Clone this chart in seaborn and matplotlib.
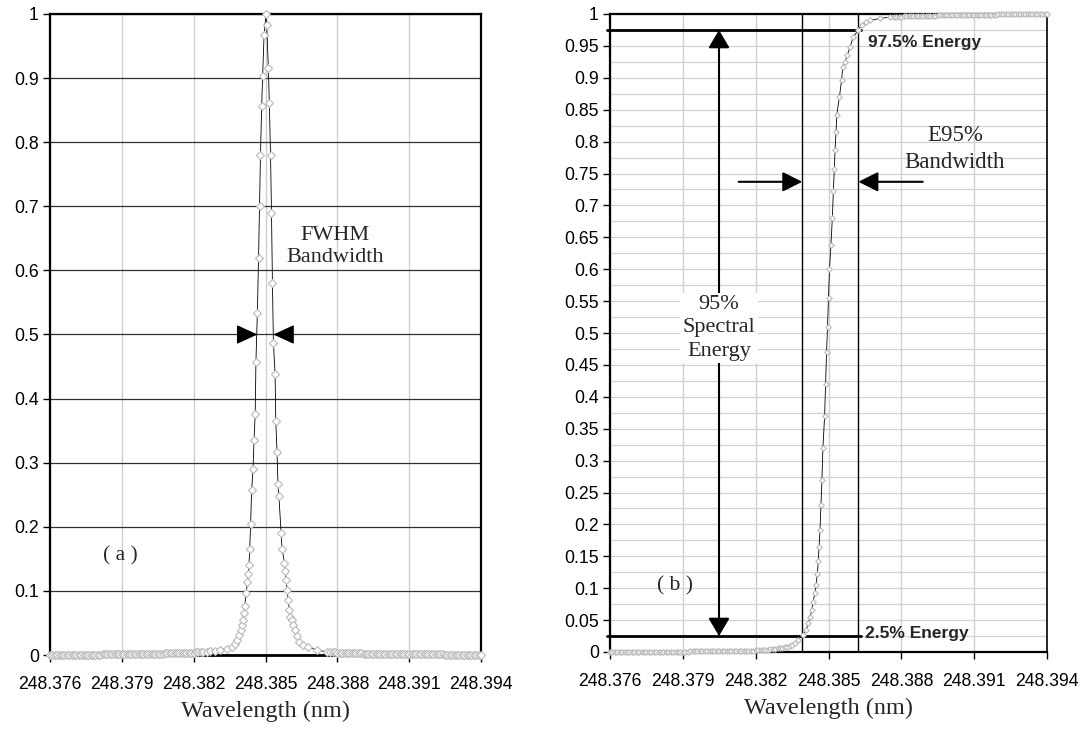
import matplotlib
matplotlib.use("Agg")
import matplotlib.pyplot as plt
import seaborn as sns
from matplotlib.ticker import FixedLocator, FuncFormatter, MultipleLocator

# ---------------- data ----------------
x_ticks = [248.376, 248.379, 248.382, 248.385, 248.388, 248.391, 248.394]
x_tick_labels = ["248.376", "248.379", "248.382", "248.385", "248.388", "248.391", "248.394"]

# (a) normalised spectrum
wl_a = [248.3760, 248.3761, 248.3762, 248.3763, 248.3764, 248.3765, 248.3766, 248.3767, 248.3768, 248.3769,
        248.3770, 248.3771, 248.3772, 248.3773, 248.3774, 248.3775, 248.3776, 248.3777, 248.3778, 248.3779,
        248.3780, 248.3781, 248.3782, 248.3783, 248.3784, 248.3785, 248.3786, 248.3787, 248.3788, 248.3789,
        248.3790, 248.3791, 248.3792, 248.3793, 248.3794, 248.3795, 248.3796, 248.3797, 248.3798, 248.3799,
        248.3800, 248.3801, 248.3802, 248.3803, 248.3804, 248.3805, 248.3806, 248.3807, 248.3808, 248.3809,
        248.3810, 248.3811, 248.3812, 248.3813, 248.3814, 248.3815, 248.3816, 248.3817, 248.3818, 248.3819,
        248.3820, 248.3821, 248.3822, 248.3823, 248.3824,
        248.38254, 248.3827, 248.3829, 248.3831, 248.38338, 248.38359, 248.38373,
        248.38382, 248.38391, 248.38396, 248.38401, 248.38405, 248.38409, 248.38413, 248.38420,
        248.38424, 248.38428, 248.38431, 248.38434, 248.38438, 248.38442, 248.38448, 248.38452,
        248.38457, 248.38460, 248.38466, 248.38471, 248.38475, 248.38479, 248.38484, 248.38488,
        248.38494, 248.38502, 248.38505, 248.38512, 248.38516, 248.38521, 248.38525, 248.38529,
        248.38533, 248.38540, 248.38543, 248.38548, 248.38552, 248.38556, 248.38565, 248.38569,
        248.38579, 248.38583, 248.38586, 248.38590, 248.38595, 248.38599, 248.38604, 248.38609,
        248.38616, 248.38623, 248.38630, 248.38641, 248.38658, 248.38679, 248.38714, 248.38756,
        248.3877, 248.3878, 248.3879,
        248.3880, 248.3881, 248.3882, 248.3883, 248.3884, 248.3885, 248.3886, 248.3887, 248.3888, 248.3889,
        248.3890, 248.3891, 248.3892, 248.3893, 248.3894, 248.3895, 248.3896, 248.3897, 248.3898, 248.3899,
        248.3900, 248.3901, 248.3902, 248.3903, 248.3904, 248.3905, 248.3906, 248.3907, 248.3908, 248.3909,
        248.3910, 248.3911, 248.3912, 248.3913, 248.3914, 248.3915, 248.3916, 248.3917, 248.3918, 248.3919,
        248.3920, 248.3921, 248.3922, 248.3923, 248.3924, 248.3925, 248.3926, 248.3927, 248.3928, 248.3929,
        248.3930, 248.3931, 248.3932, 248.3933, 248.3934, 248.3935, 248.3936, 248.3937, 248.3938, 248.3939,
        248.3940]
int_a = [0.0004, 0.0004, 0.0004, 0.0004, 0.0004, 0.0004, 0.0004, 0.0004, 0.0004, 0.0004,
         0.0005, 0.0005, 0.0005, 0.0005, 0.0006, 0.0006, 0.0006, 0.0006, 0.0006, 0.0007,
         0.0007, 0.0007, 0.0008, 0.0008, 0.0008, 0.0009, 0.0009, 0.0009, 0.0010, 0.0010,
         0.0011, 0.0011, 0.0012, 0.0012, 0.0013, 0.0013, 0.0014, 0.0014, 0.0015, 0.0016,
         0.0017, 0.0017, 0.0018, 0.0019, 0.0020, 0.0021, 0.0022, 0.0023, 0.0024, 0.0025,
         0.0026, 0.0027, 0.0028, 0.0029, 0.0030, 0.0031, 0.0032, 0.0033, 0.0034, 0.0036,
         0.0038, 0.0040, 0.0042, 0.0045, 0.0047,
         0.0050, 0.0060, 0.0070, 0.0080, 0.0100, 0.0130, 0.0170,
         0.0230, 0.0310, 0.0390, 0.0470, 0.0550, 0.0660, 0.0760, 0.0970,
         0.1140, 0.1270, 0.1410, 0.1650, 0.2050, 0.2570, 0.2900, 0.3350,
         0.3760, 0.4570, 0.5340, 0.6200, 0.7000, 0.7800, 0.8560, 0.9030,
         0.9670, 1.0000, 0.9830, 0.9160, 0.8610, 0.7800, 0.6900, 0.5800,
         0.4870, 0.4390, 0.3650, 0.3170, 0.2670, 0.2480, 0.1910, 0.1660,
         0.1440, 0.1310, 0.1170, 0.1010, 0.0860, 0.0700, 0.0600, 0.0550,
         0.0470, 0.0390, 0.0290, 0.0210, 0.0160, 0.0120, 0.0080, 0.0050,
         0.0046, 0.0043, 0.0040,
         0.0038, 0.0036, 0.0034, 0.0032, 0.0030, 0.0029, 0.0028, 0.0027, 0.0026, 0.0025,
         0.0024, 0.0023, 0.0022, 0.0021, 0.0020, 0.0019, 0.0019, 0.0018, 0.0017, 0.0017,
         0.0016, 0.0016, 0.0015, 0.0015, 0.0014, 0.0014, 0.0013, 0.0013, 0.0012, 0.0012,
         0.0012, 0.0011, 0.0011, 0.0011, 0.0010, 0.0010, 0.0010, 0.0009, 0.0009, 0.0009,
         0.0009, 0.0008, 0.0008, 0.0008, 0.0008, 0.0007, 0.0007, 0.0007, 0.0007, 0.0006,
         0.0006, 0.0006, 0.0006, 0.0006, 0.0005, 0.0005, 0.0005, 0.0005, 0.0005, 0.0004,
         0.0004]

# (b) cumulative spectral energy
wl_b = [248.3760, 248.3761, 248.3762, 248.3763, 248.3764, 248.3765, 248.3766, 248.3767, 248.3768, 248.3769,
        248.3770, 248.3771, 248.3772, 248.3773, 248.3774, 248.3775, 248.3776, 248.3777, 248.3778, 248.3779,
        248.3780, 248.3781, 248.3782, 248.3783, 248.3784, 248.3785, 248.3786, 248.3787, 248.3788, 248.3789,
        248.3790, 248.3791, 248.3792, 248.3793, 248.3794, 248.3795, 248.3796, 248.3797, 248.3798, 248.3799,
        248.3800, 248.3801, 248.3802, 248.3803, 248.3804, 248.3805, 248.3806, 248.3807, 248.3808, 248.3809,
        248.3810, 248.3811, 248.3812, 248.3813, 248.3814, 248.3815, 248.3816, 248.3817, 248.3818, 248.3819,
        248.3820, 248.3821, 248.3822, 248.3823, 248.3824, 248.3825, 248.3826, 248.3827, 248.3828, 248.3829,
        248.3830, 248.3831, 248.3832, 248.3833, 248.3834, 248.3835, 248.3836,
        248.38374, 248.38394, 248.38407, 248.38417, 248.38424, 248.38431, 248.38437, 248.38444,
        248.38449, 248.38454, 248.38458, 248.38461, 248.38465, 248.38469, 248.38473, 248.38477,
        248.38484, 248.38488, 248.38492, 248.38496, 248.38500, 248.38504, 248.38510, 248.38516,
        248.38520, 248.38524, 248.38527, 248.38531, 248.38534, 248.38545, 248.38554, 248.38559,
        248.38568, 248.38578, 248.38589, 248.38602, 248.38623, 248.38637, 248.38655, 248.38671,
        248.38712, 248.38753,
        248.3877, 248.3878, 248.3879,
        248.3880, 248.3881, 248.3882, 248.3883, 248.3884, 248.3885, 248.3886, 248.3887, 248.3888, 248.3889,
        248.3890, 248.3891, 248.3892, 248.3893, 248.3894, 248.3895, 248.3896, 248.3897, 248.3898, 248.3899,
        248.3900, 248.3901, 248.3902, 248.3903, 248.3904, 248.3905, 248.3906, 248.3907, 248.3908, 248.3909,
        248.3910, 248.3911, 248.3912, 248.3913, 248.3914, 248.3915, 248.3916, 248.3917, 248.3918, 248.3919,
        248.3920, 248.3921, 248.3922, 248.3923, 248.3924, 248.3925, 248.3926, 248.3927, 248.3928, 248.3929,
        248.3930, 248.3931, 248.3932, 248.3933, 248.3934, 248.3935, 248.3936, 248.3937, 248.3938, 248.3939,
        248.3940]
cum_b = [0.0000, 0.0000, 0.0000, 0.0001, 0.0001, 0.0001, 0.0001, 0.0001, 0.0001, 0.0002,
         0.0002, 0.0002, 0.0002, 0.0002, 0.0003, 0.0003, 0.0003, 0.0003, 0.0003, 0.0004,
         0.0004, 0.0004, 0.0004, 0.0005, 0.0005, 0.0005, 0.0005, 0.0006, 0.0006, 0.0006,
         0.0006, 0.0007, 0.0007, 0.0008, 0.0008, 0.0008, 0.0008, 0.0009, 0.0009, 0.0010,
         0.0010, 0.0010, 0.0011, 0.0011, 0.0012, 0.0012, 0.0013, 0.0013, 0.0014, 0.0014,
         0.0015, 0.0016, 0.0017, 0.0017, 0.0018, 0.0019, 0.0020, 0.0021, 0.0022, 0.0023,
         0.0025, 0.0027, 0.0029, 0.0032, 0.0035, 0.0038, 0.0042, 0.0046, 0.0050, 0.0055,
         0.0060, 0.0066, 0.0073, 0.0082, 0.0093, 0.0110, 0.0135,
         0.0190, 0.0270, 0.0340, 0.0450, 0.0550, 0.0660, 0.0790, 0.0930,
         0.1050, 0.1230, 0.1420, 0.1650, 0.1920, 0.2300, 0.2700, 0.3200,
         0.3700, 0.4200, 0.4700, 0.5100, 0.5550, 0.6000, 0.6380, 0.6810,
         0.7230, 0.7570, 0.7870, 0.8150, 0.8420, 0.8700, 0.8970, 0.9170,
         0.9250, 0.9360, 0.9490, 0.9640, 0.9750, 0.9830, 0.9870, 0.9900,
         0.9930, 0.9950,
         0.9953, 0.9955, 0.9957,
         0.9960, 0.9961, 0.9963, 0.9964, 0.9966, 0.9967, 0.9968, 0.9969, 0.9970, 0.9971,
         0.9972, 0.9973, 0.9974, 0.9975, 0.9976, 0.9977, 0.9978, 0.9979, 0.9980, 0.9980,
         0.9981, 0.9982, 0.9983, 0.9983, 0.9984, 0.9985, 0.9985, 0.9986, 0.9987, 0.9987,
         0.9988, 0.9988, 0.9989, 0.9989, 0.9990, 0.9990, 0.9991, 0.9991, 0.9992, 0.9992,
         0.9993, 0.9993, 0.9994, 0.9994, 0.9995, 0.9995, 0.9996, 0.9996, 0.9996, 0.9997,
         0.9997, 0.9997, 0.9998, 0.9998, 0.9998, 0.9999, 0.9999, 0.9999, 1.0000, 1.0000,
         1.0000]

# annotation positions (data units)
fwhm_left, fwhm_right, fwhm_level = 248.38466, 248.38533, 0.5
e95_left, e95_right = 248.38392, 248.38623
energy_low, energy_high = 0.025, 0.975
spec_arrow_x = 248.38049
e95_arrow_y = 0.737

# ---------------- style ----------------
sns.set_theme(style="white")
plt.rcParams["font.family"] = ["Liberation Sans", "DejaVu Sans"]
SERIF = ["Liberation Serif", "DejaVu Serif"]

fig = plt.figure(figsize=(10.85, 7.36), dpi=100)
axa = fig.add_axes([50 / 1085, 1 - 655 / 736, 431 / 1085, 641 / 736])
axb = fig.add_axes([610 / 1085, 1 - 652 / 736, 437 / 1085, 638 / 736])

line_kw = dict(color="black", linewidth=0.6, marker="D", markerfacecolor="white",
               markeredgewidth=0.8, zorder=3, clip_on=False, sort=False, estimator=None)
sns.lineplot(x=wl_a, y=int_a, ax=axa, markersize=3.6, markeredgecolor="#b8b8b8", **line_kw)
sns.lineplot(x=wl_b, y=cum_b, ax=axb, markersize=2.8, markeredgecolor="#b8b8b8", **line_kw)

fmt_y = FuncFormatter(lambda v, p: ("%g" % round(v, 3)))
for ax in (axa, axb):
    ax.set_xlim(248.376, 248.394)
    ax.set_ylim(0, 1)
    ax.xaxis.set_major_locator(FixedLocator(x_ticks))
    ax.set_xticklabels(x_tick_labels)
    ax.yaxis.set_major_formatter(fmt_y)
    ax.tick_params(axis="both", which="major", direction="out", length=5, width=1,
                   color="black", labelsize=12.7, labelcolor="black", pad=3,
                   bottom=True, left=True)
    ax.tick_params(axis="x", pad=10)
    ax.tick_params(which="minor", length=0)
    for s in ax.spines.values():
        s.set_color("black")
        s.set_linewidth(1.6)
        s.set_visible(True)
    ax.set_axisbelow(True)
    ax.set_xlabel("Wavelength (nm)", family=SERIF, fontsize=17.5, labelpad=6)
    ax.set_ylabel("")
    ax.xaxis.grid(True, color="#cfcfcf", linewidth=1.0)

# panel (a)
axa.yaxis.set_major_locator(MultipleLocator(0.1))
axa.yaxis.grid(True, color="#303030", linewidth=0.9)
axa.spines["bottom"].set_linewidth(2)

# panel (b)
axb.yaxis.set_major_locator(MultipleLocator(0.05))
axb.yaxis.set_minor_locator(MultipleLocator(0.025))
axb.yaxis.grid(True, which="both", color="#d2d2d2", linewidth=0.9)
axb.spines["right"].set_linewidth(1.2)

# ---------- annotations (a) ----------
head_kw = dict(arrowstyle="-|>,head_length=13,head_width=6", mutation_scale=1,
               color="black", lw=1, shrinkA=0, shrinkB=0)
axa.annotate("", xy=(fwhm_left, fwhm_level), xytext=(fwhm_left - 0.0008, fwhm_level),
             arrowprops=head_kw, zorder=4)
axa.annotate("", xy=(fwhm_right, fwhm_level), xytext=(fwhm_right + 0.0008, fwhm_level),
             arrowprops=head_kw, zorder=4)
axa.text(248.3879, 0.637, "FWHM\nBandwidth", family=SERIF, fontsize=16,
         ha="center", va="center", linespacing=1.2)
axa.text(248.37892, 0.155, "( a )", family=SERIF, fontsize=15.5, ha="center", va="center")

# ---------- annotations (b) ----------
for xv in (e95_left, e95_right):
    axb.axvline(xv, color="black", linewidth=1.0, zorder=2.2)
axb.plot([248.37586, 248.38634], [energy_high, energy_high], color="black",
         linewidth=2, clip_on=False, zorder=2.4)
axb.plot([248.37586, 248.38634], [energy_low, energy_low], color="black",
         linewidth=2, clip_on=False, zorder=2.4)
axb.text(248.38663, 0.967, "97.5% Energy", fontsize=12.5, fontweight="bold",
         ha="left", va="top")
axb.text(248.38652, 0.022, "2.5% Energy", fontsize=12.5, fontweight="bold",
         ha="left", va="baseline")

axb.annotate("", xy=(spec_arrow_x, energy_high), xytext=(spec_arrow_x, energy_low),
             arrowprops=dict(arrowstyle="<|-|>,head_length=11,head_width=6.5",
                             mutation_scale=1, color="black", lw=1.5,
                             shrinkA=0, shrinkB=0), zorder=2.6)
axb.text(spec_arrow_x, 0.508, "95%\nSpectral\nEnergy", family=SERIF, fontsize=16,
         ha="center", va="center", linespacing=1.3, zorder=2.7,
         bbox=dict(facecolor="white", edgecolor="none", pad=2))

e95_kw = dict(arrowstyle="-|>,head_length=12,head_width=6", mutation_scale=1,
              color="black", lw=1.5, shrinkA=0, shrinkB=0)
axb.annotate("", xy=(e95_left, e95_arrow_y), xytext=(248.3813, e95_arrow_y),
             arrowprops=e95_kw, zorder=4)
axb.annotate("", xy=(e95_right, e95_arrow_y), xytext=(248.38888, e95_arrow_y),
             arrowprops=e95_kw, zorder=4)
axb.text(248.3902, 0.788, "E95%\nBandwidth", family=SERIF, fontsize=16.5,
         ha="center", va="center", linespacing=1.35)
axb.text(248.37868, 0.103, "( b )", family=SERIF, fontsize=15.5, ha="center", va="center")

fig.savefig("out.png", dpi=100, facecolor="white")
